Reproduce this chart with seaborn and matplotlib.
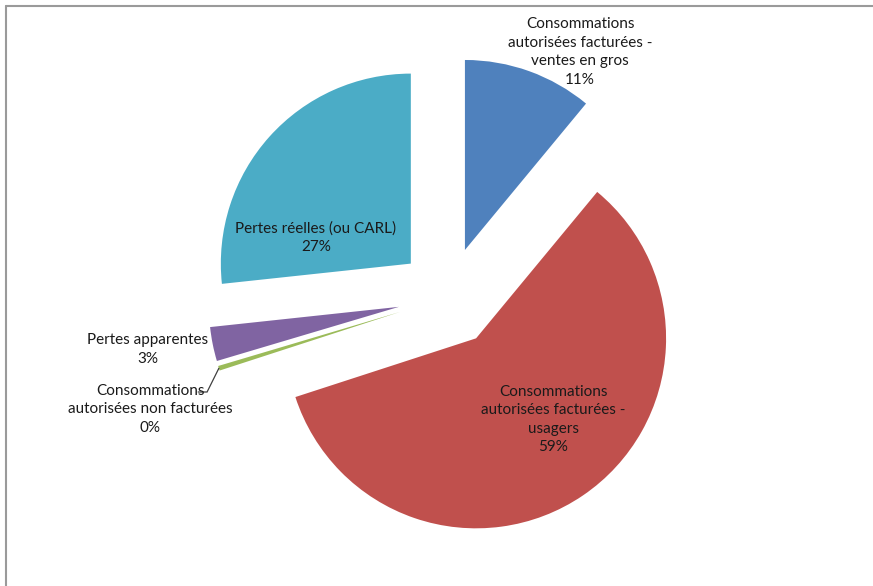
import matplotlib
matplotlib.use("Agg")
import matplotlib.pyplot as plt
from matplotlib.lines import Line2D
import numpy as np
import seaborn as sns

# Répartition des volumes (en %)
categories = [
    "Consommations\nautorisées facturées -\nventes en gros",
    "Consommations\nautorisées facturées -\nusagers",
    "Consommations\nautorisées non facturées",
    "Pertes apparentes",
    "Pertes réelles (ou CARL)",
]
values = [11.0, 59.0, 0.4, 2.9, 26.7]
colors = ["#4F81BD", "#C0504D", "#9BBB59", "#8064A2", "#4BACC6"]

sns.set_theme(style="white")
plt.rcParams["font.family"] = ["Lato", "DejaVu Sans"]

W, H = 873, 586
R_PX = 190.0          # pie radius in pixels
CX, CY = 448.0, 297.0 # pie centre in pixels (from top-left)

fig = plt.figure(figsize=(W / 100, H / 100), dpi=100)
fig.patch.set_facecolor("white")
ax = fig.add_axes([0, 0, 1, 1])

explode = [0.263] * len(values)
wedges, _ = ax.pie(
    values,
    colors=colors,
    explode=explode,
    startangle=90,
    counterclock=False,
    radius=1.0,
    wedgeprops=dict(linewidth=0),
)
ax.set_xlim(-CX / R_PX, (W - CX) / R_PX)
ax.set_ylim(-(H - CY) / R_PX, CY / R_PX)
ax.set_aspect("equal")
ax.axis("off")

labels = [f"{c}\n{round(v)}%" for c, v in zip(categories, values)]

# label anchor positions (data units, radius = 1)
label_pos = [
    (0.695, 1.29),
    (0.553, -0.645),
    (-1.568, -0.592),
    (-1.579, -0.277),
    (-0.695, 0.31),
]
for txt, (lx, ly) in zip(labels, label_pos):
    ax.text(lx, ly, txt, ha="center", va="center", fontsize=11,
            color="#1a1a1a", linespacing=1.4)

# leader line for the thin slice
w = wedges[2]
mid = np.deg2rad((w.theta1 + w.theta2) / 2)
cx, cy = w.center
tip = (cx + w.r * np.cos(mid), cy + w.r * np.sin(mid))
ax.plot([tip[0], -1.268, -1.315], [tip[1], -0.50, -0.50],
        color="#404040", linewidth=0.9, solid_joinstyle="miter")

# chart-area frame (top and left edges)
fig.add_artist(Line2D([6 / W, 1], [1 - 6 / H, 1 - 6 / H], transform=fig.transFigure,
                      color="#9a9a9a", linewidth=1.5))
fig.add_artist(Line2D([6 / W, 6 / W], [0, 1 - 6 / H], transform=fig.transFigure,
                      color="#9a9a9a", linewidth=1.5))

fig.savefig("out.png", dpi=100, facecolor="white")
